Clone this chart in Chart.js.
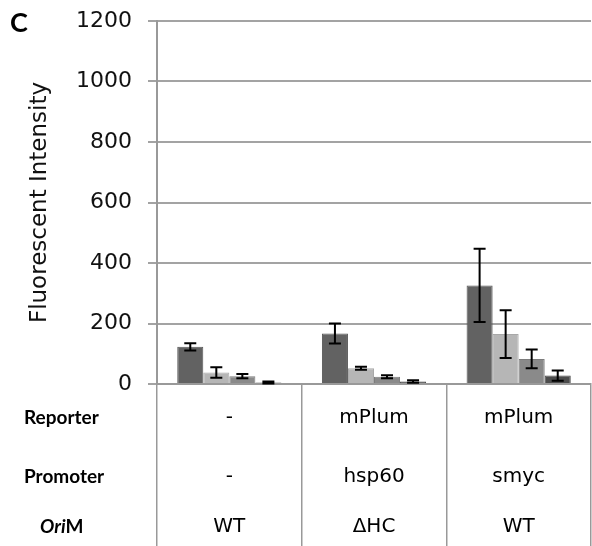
<!DOCTYPE html>
<html>
<head>
<meta charset="utf-8">
<script src="https://cdn.jsdelivr.net/npm/chart.js@4/dist/chart.umd.min.js"></script>
<style>
  html, body { margin: 0; padding: 0; background: #fff; }
  #wrap { width: 592px; height: 546px; position: relative; }
</style>
</head>
<body>
<div id="wrap"><canvas id="fluorChart"></canvas></div>
<script>
// groups along the x axis, described by the three table rows
const reporters = ["-", "mPlum", "mPlum"];
const promoters = ["-", "hsp60", "smyc"];
const oriM = ["WT", "\u0394HC", "WT"];
const rowHeaders = ["Reporter", "Promoter", "OriM"];

// four bars per group (means and error half-widths)
const series1 = [123, 167, 326];
const series1Err = [12, 33, 121];
const series2 = [38, 52, 165];
const series2Err = [17, 5, 79];
const series3 = [26, 24, 83];
const series3Err = [7, 5, 31];
const series4 = [5, 8, 28];
const series4Err = [3, 4, 17];

const yTicks = [0, 200, 400, 600, 800, 1000, 1200];

document.addEventListener("DOMContentLoaded", () => {
  const ctx = document.getElementById("fluorChart").getContext("2d");
  const errors = [series1Err, series2Err, series3Err, series4Err];

  const errorBars = {
    id: "errorBars",
    afterDatasetsDraw(chart) {
      const c = chart.ctx;
      const y = chart.scales.y;
      c.save();
      c.strokeStyle = "#000";
      c.lineWidth = 2;
      chart.data.datasets.forEach((ds, di) => {
        const meta = chart.getDatasetMeta(di);
        meta.data.forEach((bar, i) => {
          const v = ds.data[i];
          const e = errors[di][i];
          const top = y.getPixelForValue(v + e);
          const bot = y.getPixelForValue(Math.max(0, v - e));
          c.beginPath();
          c.moveTo(bar.x, top);
          c.lineTo(bar.x, bot);
          c.moveTo(bar.x - 6, top);
          c.lineTo(bar.x + 6, top);
          c.moveTo(bar.x - 6, bot);
          c.lineTo(bar.x + 6, bot);
          c.stroke();
        });
      });
      c.restore();
    },
  };

  const table = {
    id: "table",
    afterDraw(chart) {
      const c = chart.ctx;
      const x = chart.scales.x;
      const rowsY = [418, 477, 527];
      const rows = [reporters, promoters, oriM];
      c.save();
      c.fillStyle = "#000";
      c.textBaseline = "middle";

      c.font = "bold 27px Lato";
      c.textAlign = "left";
      c.fillText("C", 10, 23);

      c.font = "bold 19px Lato";
      c.fillText(rowHeaders[0], 24, rowsY[0]);
      c.fillText(rowHeaders[1], 24, rowsY[1]);
      c.font = "italic bold 19px Lato";
      c.fillText("Ori", 40, rowsY[2]);
      const w = c.measureText("Ori").width;
      c.font = "bold 19px Lato";
      c.fillText("M", 40 + w, rowsY[2]);

      c.font = "20px 'DejaVu Sans'";
      c.textAlign = "center";
      rows.forEach((row, r) => {
        row.forEach((txt, i) => {
          c.fillText(txt, x.getPixelForValue(i), rowsY[r]);
        });
      });
      c.restore();
    },
  };

  new Chart(ctx, {
    type: "bar",
    data: {
      labels: oriM,
      datasets: [
        { data: series1, backgroundColor: "#626262", borderColor: "#555", borderWidth: 1 },
        { data: series2, backgroundColor: "#b6b6b6", borderColor: "#a8a8a8", borderWidth: 1 },
        { data: series3, backgroundColor: "#8a8a8a", borderColor: "#7c7c7c", borderWidth: 1 },
        { data: series4, backgroundColor: "#4c4c4c", borderColor: "#444", borderWidth: 1 },
      ],
    },
    options: {
      responsive: true,
      maintainAspectRatio: false,
      animation: false,
      layout: { padding: { top: 21, right: 1, left: 0, bottom: 0 } },
      plugins: {
        legend: { display: false },
        tooltip: { enabled: false },
      },
      datasets: {
        bar: { categoryPercentage: 0.72, barPercentage: 1 },
      },
      scales: {
        x: {
          grid: {
            offset: true,
            drawOnChartArea: false,
            tickLength: 162,
            color: "#999",
            lineWidth: 1.5,
          },
          border: { color: "#999", width: 2 },
          ticks: { display: false },
        },
        y: {
          min: 0,
          max: 1200,
          afterBuildTicks: (axis) => {
            axis.ticks = yTicks.map((v) => ({ value: v }));
          },
          afterFit: (axis) => {
            axis.width = 157;
          },
          grid: { color: "#a3a3a3", lineWidth: 2, tickLength: 9 },
          border: { color: "#999", width: 2 },
          ticks: {
            color: "#111",
            padding: 16,
            font: { family: "'DejaVu Sans'", size: 22, lineHeight: 0.3 },
            callback: (v) => String(v),
          },
          title: {
            display: true,
            text: "Fluorescent Intensity",
            color: "#111",
            font: { family: "'DejaVu Sans'", size: 23 },
            padding: { top: 26, bottom: 0 },
          },
        },
      },
    },
    plugins: [errorBars, table],
  });
});
</script>
</body>
</html>
